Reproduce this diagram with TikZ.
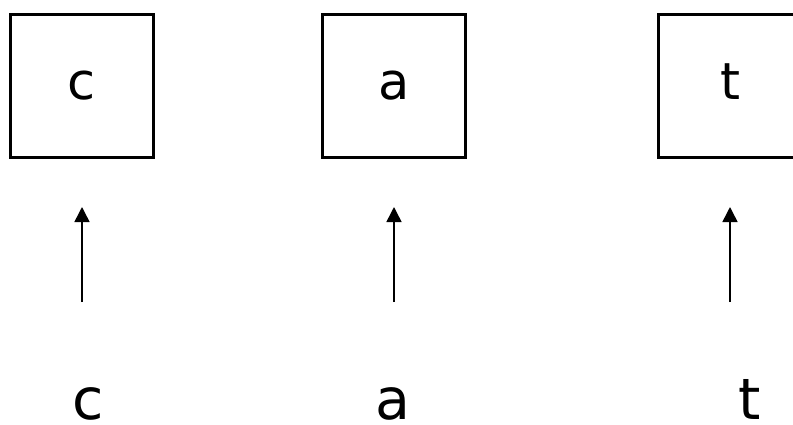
\documentclass[tikz,border=0pt]{standalone}
\usepackage{fontspec}
\setmainfont{DejaVu Sans}
\usetikzlibrary{arrows.meta}
\begin{document}
\begin{tikzpicture}[x=1pt,y=-1pt,
  cell/.style={draw,line width=3pt,minimum size=143pt,inner sep=0pt,
    font=\fontsize{51}{51}\selectfont,text height=28pt,text depth=0pt},
  inlabel/.style={anchor=base,inner sep=0pt,font=\fontsize{57}{57}\selectfont},
  upar/.style={line width=1.5pt,-{Triangle[width=15pt,length=15pt]}}]
\useasboundingbox (0,0) rectangle (793,424);
\node[cell] (b1) at (82,85.5) {c};
\node[cell] (b2) at (394,85.5) {a};
\node[cell] (b3) at (730,85.5) {t};
\node[inlabel] (l1) at (88,419) {c};
\node[inlabel] (l2) at (393,419) {a};
\node[inlabel] (l3) at (750,419) {t};
\coordinate (s1) at (82,302);  \coordinate (e1) at (82,207);
\coordinate (s2) at (394,302); \coordinate (e2) at (394,207);
\coordinate (s3) at (730,302); \coordinate (e3) at (730,207);
\draw[upar] (s1) -- (e1);
\draw[upar] (s2) -- (e2);
\draw[upar] (s3) -- (e3);
\end{tikzpicture}
\end{document}
